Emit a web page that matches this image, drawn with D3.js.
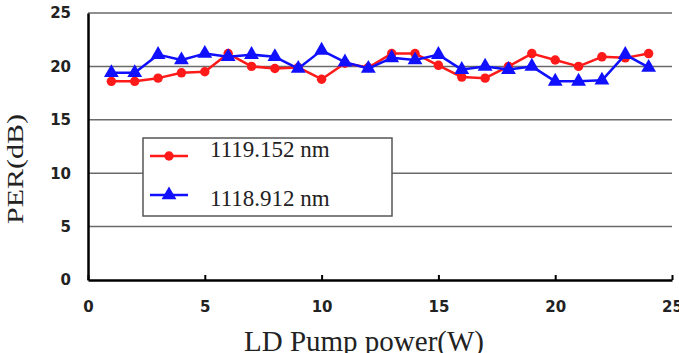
<!DOCTYPE html>
<html lang="en">
<head>
<meta charset="utf-8">
<title>PER vs LD pump power</title>
<script src="https://d3js.org/d3.v7.min.js"></script>
<style>
  body { margin: 0; background: #fff; }
</style>
</head>
<body>
<div id="chart"></div>
<script>
// data
var power = [1,2,3,4,5,6,7,8,9,10,11,12,13,14,15,16,17,18,19,20,21,22,23,24];
var per1119 = [18.6,18.6,18.9,19.4,19.5,21.2,20.0,19.8,19.9,18.8,20.3,19.9,21.2,21.2,20.1,19.0,18.9,20.0,21.2,20.6,20.0,20.9,20.8,21.2];
var per1118 = [19.4,19.4,21.1,20.6,21.2,20.9,21.1,20.9,19.8,21.5,20.4,19.8,20.8,20.6,21.1,19.7,20.0,19.7,20.0,18.6,18.6,18.7,21.1,19.9];
var xTicks = [0,5,10,15,20,25];
var yTicks = [0,5,10,15,20,25];
var seriesNames = ["1119.152 nm", "1118.912 nm"];

var w = 679, h = 353;
var padL = 88, padR = 672, padT = 13, padB = 280;

var svg = d3.select("#chart").append("svg")
  .attr("width", w).attr("height", h);

var x = d3.scaleLinear().domain([0, 25]).range([padL, padR]);
var y = d3.scaleLinear().domain([0, 25]).range([padB, padT]);

// gridlines
svg.append("g").selectAll("line")
  .data(yTicks.filter(d => d > 0))
  .enter().append("line")
  .attr("x1", padL).attr("x2", padR)
  .attr("y1", d => y(d)).attr("y2", d => y(d))
  .attr("stroke", "#6a6a6a").attr("stroke-width", 1.5);

// x axis
var xAxis = d3.axisBottom(x).tickValues(xTicks).tickSizeInner(-5).tickSizeOuter(0).tickPadding(21);
var gx = svg.append("g").attr("transform", "translate(0," + padB + ")").call(xAxis);
gx.select(".domain").attr("stroke", "#000").attr("stroke-width", 2.5);
gx.selectAll(".tick line").attr("stroke", "#000").attr("stroke-width", 2);
gx.selectAll("text")
  .attr("font-family", "DejaVu Sans").attr("font-weight", "bold")
  .attr("font-size", 15).attr("fill", "#222");

// y axis
var yAxis = d3.axisLeft(y).tickValues(yTicks).tickSize(0).tickPadding(17);
var gy = svg.append("g").attr("transform", "translate(" + padL + ",0)").call(yAxis);
gy.select(".domain").attr("stroke", "#000").attr("stroke-width", 2.5);
gy.selectAll("text")
  .attr("font-family", "DejaVu Sans").attr("font-weight", "bold")
  .attr("font-size", 15).attr("fill", "#222");

// series
var series = [
  { vals: per1119, color: "#ff1a1a", shape: d3.symbolCircle, size: 70 },
  { vals: per1118, color: "#1010ff", shape: d3.symbolTriangle, size: 95 }
];

var line = d3.line().x(d => x(d[0])).y(d => y(d[1]));

series.forEach(function(s) {
  var pts = power.map((p, i) => [p, s.vals[i]]);
  svg.append("path").datum(pts)
    .attr("d", line)
    .attr("fill", "none")
    .attr("stroke", s.color)
    .attr("stroke-width", 2.5)
    .attr("stroke-linejoin", "round");
  svg.append("g").selectAll("path")
    .data(pts).enter().append("path")
    .attr("transform", d => "translate(" + x(d[0]) + "," + y(d[1]) + ")")
    .attr("d", d3.symbol().type(s.shape).size(s.size))
    .attr("fill", s.color);
});

// legend
var lg = svg.append("g");
lg.append("rect")
  .attr("x", 143).attr("y", 138).attr("width", 249).attr("height", 78)
  .attr("fill", "#fff").attr("stroke", "#555").attr("stroke-width", 1.5);
var legY = [156, 195];
var legTextY = [157, 206];
series.forEach(function(s, i) {
  lg.append("line")
    .attr("x1", 150).attr("x2", 188).attr("y1", legY[i]).attr("y2", legY[i])
    .attr("stroke", s.color).attr("stroke-width", 2.5);
  lg.append("path")
    .attr("transform", "translate(169," + legY[i] + ")")
    .attr("d", d3.symbol().type(s.shape).size(s.size))
    .attr("fill", s.color);
  lg.append("text")
    .attr("x", 210).attr("y", legTextY[i])
    .attr("font-family", "Liberation Serif").attr("font-size", 23)
    .attr("fill", "#222")
    .text(seriesNames[i]);
});

// axis titles
svg.append("text")
  .attr("transform", "translate(23,169) rotate(-90) scale(1,0.8)")
  .attr("text-anchor", "middle")
  .attr("font-family", "Liberation Serif").attr("font-size", 30)
  .attr("fill", "#222")
  .text("PER(dB)");

svg.append("text")
  .attr("x", 364).attr("y", 351)
  .attr("text-anchor", "middle")
  .attr("font-family", "Liberation Serif").attr("font-size", 29)
  .attr("fill", "#222")
  .text("LD Pump power(W)");
</script>
</body>
</html>
